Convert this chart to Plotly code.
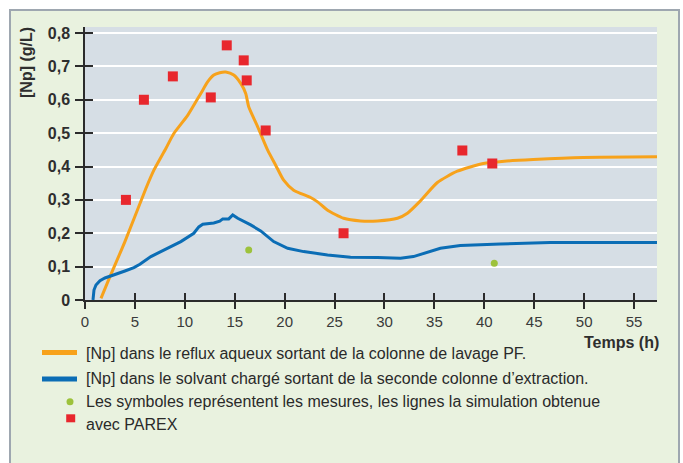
import plotly.graph_objects as go

# Simulated Np concentration (g/L) versus time (h)
orange_t = [1.6, 2.5, 4.0, 6.1, 6.9, 8.1, 8.9, 10.3, 11.6, 12.3, 12.9, 13.5, 14.1, 14.9,
            15.6, 16.1, 16.4, 17.3, 18.3, 19.1, 19.9, 20.9, 22.6, 23.3, 24.3, 25.9, 27.6,
            29.3, 31.3, 32.3, 33.6, 35.3, 37.3, 39.9, 42.0, 44.9, 49.9, 57.3]
orange_np = [0.005, 0.07, 0.175, 0.334, 0.389, 0.454, 0.499, 0.554, 0.619, 0.654, 0.674, 0.681,
             0.683, 0.674, 0.649, 0.619, 0.579, 0.519, 0.449, 0.404, 0.359, 0.329, 0.307, 0.294,
             0.269, 0.245, 0.237, 0.237, 0.245, 0.26, 0.297, 0.352, 0.386, 0.409, 0.416, 0.421,
             0.427, 0.429]

blue_t = [0.8, 0.9, 1.1, 1.5, 2.0, 2.6, 4.0, 4.9, 5.5, 6.6, 8.0, 9.6, 10.9, 11.4, 11.8, 12.9,
          13.5, 13.8, 14.4, 14.8, 15.3, 16.6, 17.6, 18.9, 20.3, 21.9, 24.3, 26.6, 29.3, 31.6,
          32.9, 34.3, 35.6, 37.6, 41.6, 46.6, 57.3]
blue_np = [0.0, 0.03, 0.045, 0.058, 0.066, 0.073, 0.087, 0.097, 0.107, 0.13, 0.15, 0.175, 0.2,
           0.219, 0.227, 0.231, 0.236, 0.243, 0.243, 0.255, 0.245, 0.225, 0.207, 0.175, 0.155,
           0.145, 0.135, 0.128, 0.127, 0.125, 0.13, 0.143, 0.155, 0.163, 0.168, 0.172, 0.172]

# Measurements
meas_red_t = [4.1, 5.9, 8.8, 12.6, 14.2, 15.9, 16.2, 18.1, 25.9, 37.8, 40.8]
meas_red_np = [0.30, 0.60, 0.67, 0.607, 0.763, 0.718, 0.658, 0.508, 0.20, 0.448, 0.409]
meas_green_t = [16.4, 41.0]
meas_green_np = [0.15, 0.11]

x_ticks = [0, 5, 10, 15, 20, 25, 30, 35, 40, 45, 50, 55]
y_ticks = [0, 0.1, 0.2, 0.3, 0.4, 0.5, 0.6, 0.7, 0.8]
y_ticktext = ["0", "0,1", "0,2", "0,3", "0,4", "0,5", "0,6", "0,7", "0,8"]

legend_texts = [
    "[Np] dans le reflux aqueux sortant de la colonne de lavage PF.",
    "[Np] dans le solvant chargé sortant de la seconde colonne d’extraction.",
    "Les symboles représentent les mesures, les lignes la simulation obtenue",
    "avec PAREX",
]

ORANGE = "#f7a21b"
BLUE = "#0b6db5"
RED = "#e8272d"
GREEN = "#9dc23c"
FRAME_BG = "#e9f2df"
PLOT_BG = "#d6dee5"
AXIS = "#2b2b2b"
FONT = "Liberation Sans, Arial, sans-serif"

W, H = 683, 463
ML, MR, MT, MB = 85, 26, 27, 163
PW, PH = W - ML - MR, H - MT - MB


def px(x):
    return (x - ML) / PW


def py(y):
    return (H - MB - y) / PH


fig = go.Figure()

fig.add_trace(go.Scatter(x=orange_t, y=orange_np, mode="lines",
                         line=dict(color=ORANGE, width=3, shape="spline", smoothing=0.6),
                         showlegend=False, hoverinfo="skip"))
fig.add_trace(go.Scatter(x=blue_t, y=blue_np, mode="lines",
                         line=dict(color=BLUE, width=3),
                         showlegend=False, hoverinfo="skip"))
fig.add_trace(go.Scatter(x=meas_red_t, y=meas_red_np, mode="markers",
                         marker=dict(symbol="square", size=10, color=RED),
                         showlegend=False, hoverinfo="skip", cliponaxis=False))
fig.add_trace(go.Scatter(x=meas_green_t, y=meas_green_np, mode="markers",
                         marker=dict(symbol="circle", size=7, color=GREEN),
                         showlegend=False, hoverinfo="skip"))
# carrier for the inner half of the crossing tick marks
fig.add_trace(go.Scatter(x=[None], y=[None], xaxis="x2", yaxis="y2",
                         showlegend=False, hoverinfo="skip"))

x_range = [0, 57.3]
y_range = [0, 0.818]

fig.update_layout(
    width=W, height=H,
    margin=dict(l=ML, r=MR, t=MT, b=MB, pad=0),
    paper_bgcolor="white",
    plot_bgcolor="rgba(0,0,0,0)",
    font=dict(family=FONT, color="#333333"),
    xaxis=dict(range=x_range, tickvals=x_ticks, ticks="outside", ticklen=7, tickwidth=1.5,
               tickcolor=AXIS, showline=True, linecolor=AXIS, linewidth=1.5,
               showgrid=False, zeroline=False, tickfont=dict(size=15, color="#3a3a3a")),
    yaxis=dict(range=y_range, tickvals=y_ticks, ticktext=y_ticktext, ticks="outside",
               ticklen=8, tickwidth=1.5, tickcolor=AXIS, showline=True, linecolor=AXIS,
               linewidth=1.5, showgrid=True, gridcolor="white", gridwidth=1.5,
               zeroline=False, ticklabelstandoff=2,
               tickfont=dict(size=16, color="#2e2e2e", weight="bold")),
    xaxis2=dict(range=x_range, overlaying="x", anchor="y2", tickvals=x_ticks, ticks="inside",
                ticklen=7, tickwidth=1.5, tickcolor=AXIS, showticklabels=False,
                showgrid=False, zeroline=False, showline=False),
    yaxis2=dict(range=y_range, overlaying="y", anchor="x2", tickvals=y_ticks, ticks="inside",
                ticklen=8, tickwidth=1.5, tickcolor=AXIS, showticklabels=False,
                showgrid=False, zeroline=False, showline=False),
)

# frame and plot background
fig.add_shape(type="rect", xref="paper", yref="paper", layer="below",
              x0=px(10), x1=px(679), y0=py(480), y1=py(10),
              fillcolor=FRAME_BG, line=dict(color="#9ea7b0", width=2))
fig.add_shape(type="rect", xref="paper", yref="paper", layer="below",
              x0=0, x1=1, y0=0, y1=1, fillcolor=PLOT_BG, line=dict(width=0))

# axis titles
fig.add_annotation(text="[Np] (g/L)", xref="paper", yref="paper", x=px(27), y=py(63),
                   textangle=-90, showarrow=False, xanchor="center", yanchor="middle",
                   font=dict(size=16, color="#2e2e2e", weight="bold"))
fig.add_annotation(text="Temps (h)", xref="paper", yref="paper", x=px(661), y=py(343),
                   showarrow=False, xanchor="right", yanchor="middle",
                   font=dict(size=16, color="#2e2e2e", weight="bold"))

# legend keys
for ypix, col in [(352.5, ORANGE), (379, BLUE)]:
    fig.add_shape(type="line", xref="paper", yref="paper",
                  x0=px(42), x1=px(77), y0=py(ypix), y1=py(ypix),
                  line=dict(color=col, width=5))
fig.add_shape(type="circle", xref="paper", yref="paper",
              x0=px(66.5), x1=px(73.5), y0=py(405.2), y1=py(398.2),
              fillcolor=GREEN, line=dict(width=0))
fig.add_shape(type="rect", xref="paper", yref="paper",
              x0=px(66.2), x1=px(75.2), y0=py(422.3), y1=py(414.3),
              fillcolor=RED, line=dict(width=0))

for ypix, txt in zip([353, 378.5, 401.7, 424.3], legend_texts):
    fig.add_annotation(text=txt, xref="paper", yref="paper", x=px(84), y=py(ypix),
                       showarrow=False, xanchor="left", yanchor="middle",
                       font=dict(size=16, color="#2a2a2a"))

fig.write_html("out.html")
